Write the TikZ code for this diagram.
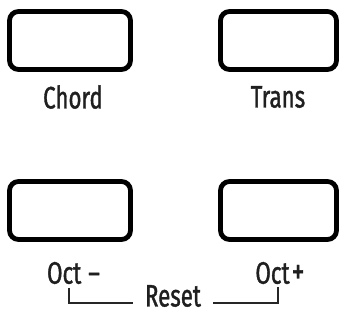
\documentclass[tikz,border=0pt]{standalone}
\usepackage{fontspec}
\setmainfont[FakeStretch=0.72,FakeBold=1.2]{Fira Sans}
\begin{document}
\begin{tikzpicture}[x=1pt,y=-1pt,
  key/.style={draw=black,line width=4.8pt,rounded corners=9pt,rectangle,inner sep=0pt,minimum width=121pt,minimum height=58pt},
  lbl/.style={inner sep=0pt,font=\fontsize{31}{31}\selectfont,text=black!88},
  brk/.style={draw=black!85,line width=1.5pt}]
\useasboundingbox (0,0) rectangle (341,326);
\node[key] (chordkey) at (70,40.5) {};
\node[key,minimum width=116pt] (transkey) at (278.5,40.5) {};
\node[key] (octmkey) at (70,210.5) {};
\node[key,minimum width=116pt] (octpkey) at (278.5,210.5) {};
\node[lbl] (chord) at (73,97) {Chord};
\node[lbl] (trans) at (278,97) {Trans};
\node[lbl] (octm) at (73.5,273) {Oct\hspace{7pt}–};
\node[lbl] (octp) at (280,273) {Oct\hspace{2pt}{\fontsize{36}{36}\selectfont+}};
\node[lbl] (reset) at (173,296) {Reset};
\coordinate (lt) at (69,288);
\coordinate (le) at (133,303);
\coordinate (rs) at (213,303);
\coordinate (rt) at (278,287);
\draw[brk] (lt) |- (le);
\draw[brk] (rs) -| (rt);
\end{tikzpicture}
\end{document}
